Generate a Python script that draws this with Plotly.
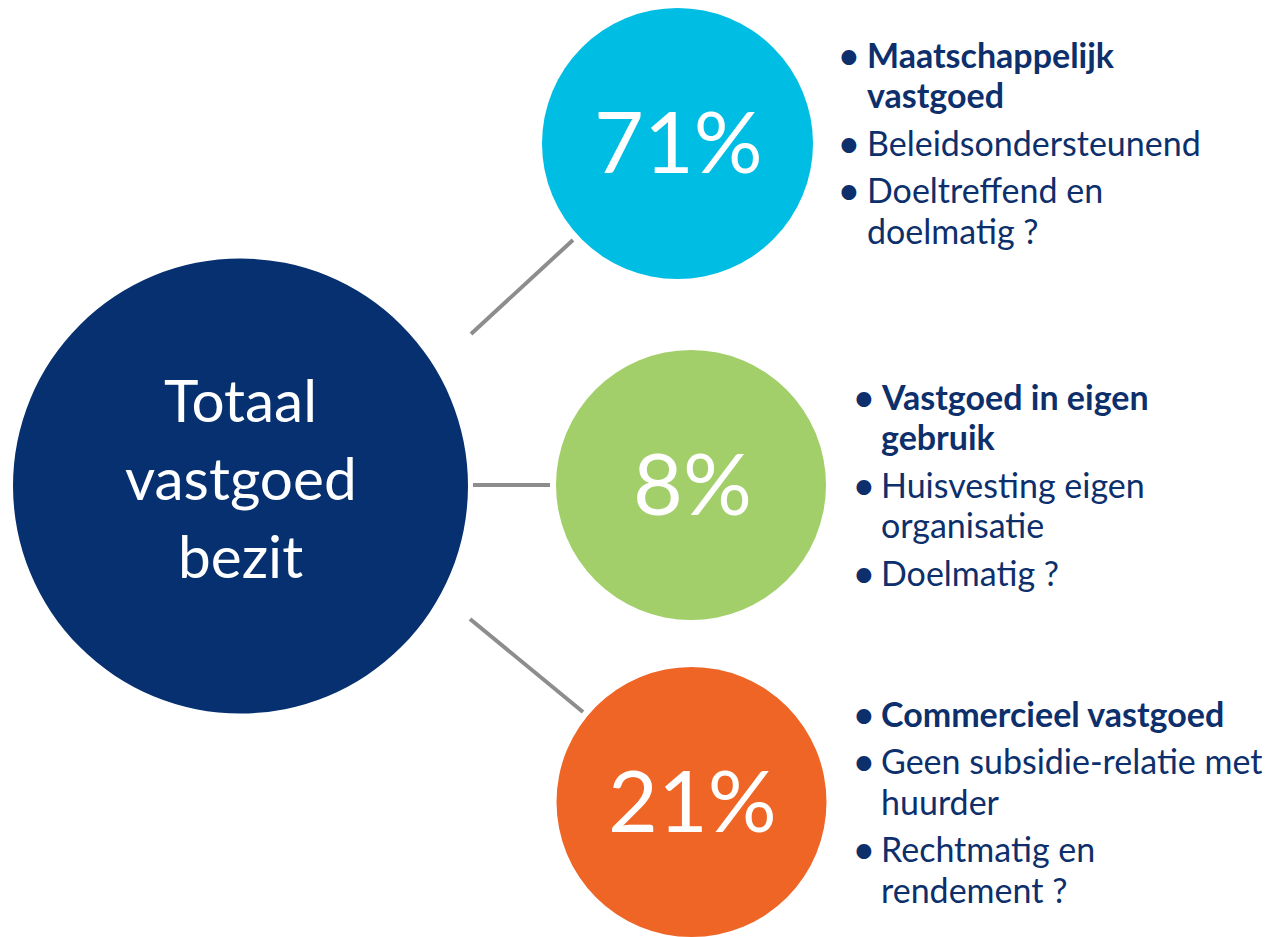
import plotly.graph_objects as go

# ---- data ----
centre_label = ["Totaal", "vastgoed", "bezit"]
categories = ["Maatschappelijk vastgoed", "Vastgoed in eigen gebruik", "Commercieel vastgoed"]
shares = [71, 8, 21]
share_colors = ["#00bde4", "#a2cf6a", "#ef6526"]
heading_lines = [["Maatschappelijk", "vastgoed"], ["Vastgoed in eigen", "gebruik"], ["Commercieel vastgoed"]]
detail_items = [
    [["Beleidsondersteunend"], ["Doeltreffend en", "doelmatig ?"]],
    [["Huisvesting eigen", "organisatie"], ["Doelmatig ?"]],
    [["Geen subsidie-relatie met", "huurder"], ["Rechtmatig en", "rendement ?"]],
]

# ---- layout (pixel space) ----
W, H = 1276, 937
OFF = 8  # page body margin
FONT = "Lato"
NAVY = "#06306f"
TEXT = "#0d2f6b"
GREY = "#8d8d8d"

big = dict(cx=240.5, cy=486, r=227.5)
small = [dict(cx=677.5, cy=143.5, r=135.5), dict(cx=691, cy=485, r=135), dict(cx=691.5, cy=802, r=135)]
connectors = [((471, 334), (573, 240)), ((473, 485), (550, 485)), ((470, 619), (583, 712))]
bullet_x = [849, 864, 864]
text_x = [865, 879, 879]
first_line_y = [54, 396, 713]
line_gap = 40.5
para_gap = 47.5
body_size = 34

fig = go.Figure()
shapes = []
annotations = []

shapes.append(dict(type="circle", xref="x", yref="y", x0=big["cx"] - big["r"], x1=big["cx"] + big["r"],
                   y0=big["cy"] - big["r"], y1=big["cy"] + big["r"], fillcolor=NAVY, line=dict(width=0), layer="below"))
for (p0, p1) in connectors:
    shapes.append(dict(type="line", xref="x", yref="y", x0=p0[0], y0=p0[1], x1=p1[0], y1=p1[1],
                       line=dict(color=GREY, width=4)))

for i, line in enumerate(centre_label):
    annotations.append(dict(x=big["cx"], y=399 + 78 * i, text=line, showarrow=False, xanchor="center", yanchor="middle",
                            font=dict(family=FONT, size=58.5, color="white")))

for k, (share, col, c) in enumerate(zip(shares, share_colors, small)):
    shapes.append(dict(type="circle", xref="x", yref="y", x0=c["cx"] - c["r"], x1=c["cx"] + c["r"],
                       y0=c["cy"] - c["r"], y1=c["cy"] + c["r"], fillcolor=col, line=dict(width=0), layer="below"))
    annotations.append(dict(x=c["cx"] + 1, y=c["cy"] - 4, text=f"{share}%", showarrow=False, xanchor="center",
                            yanchor="middle", font=dict(family=FONT, size=86, color="white")))

    y = first_line_y[k]
    items = [(heading_lines[k], True)] + [(it, False) for it in detail_items[k]]
    for n, (lines, bold) in enumerate(items):
        if n > 0:
            y += para_gap
        annotations.append(dict(x=bullet_x[k], y=y, text="<b>•</b>", showarrow=False, xanchor="center", yanchor="middle",
                                font=dict(family=FONT, size=body_size, color=TEXT)))
        for j, ln in enumerate(lines):
            if j > 0:
                y += line_gap
            annotations.append(dict(x=text_x[k], y=y, text=f"<b>{ln}</b>" if bold else ln, showarrow=False,
                                    xanchor="left", yanchor="middle",
                                    font=dict(family=FONT, size=body_size, color=TEXT)))

fig.update_layout(
    width=W - OFF, height=H - OFF, margin=dict(l=0, r=0, t=0, b=0),
    paper_bgcolor="white", plot_bgcolor="white",
    xaxis=dict(range=[OFF, W], visible=False, fixedrange=True),
    yaxis=dict(range=[H, OFF], visible=False, fixedrange=True),
    shapes=shapes, annotations=annotations, showlegend=False,
)
fig.write_html("out.html")
